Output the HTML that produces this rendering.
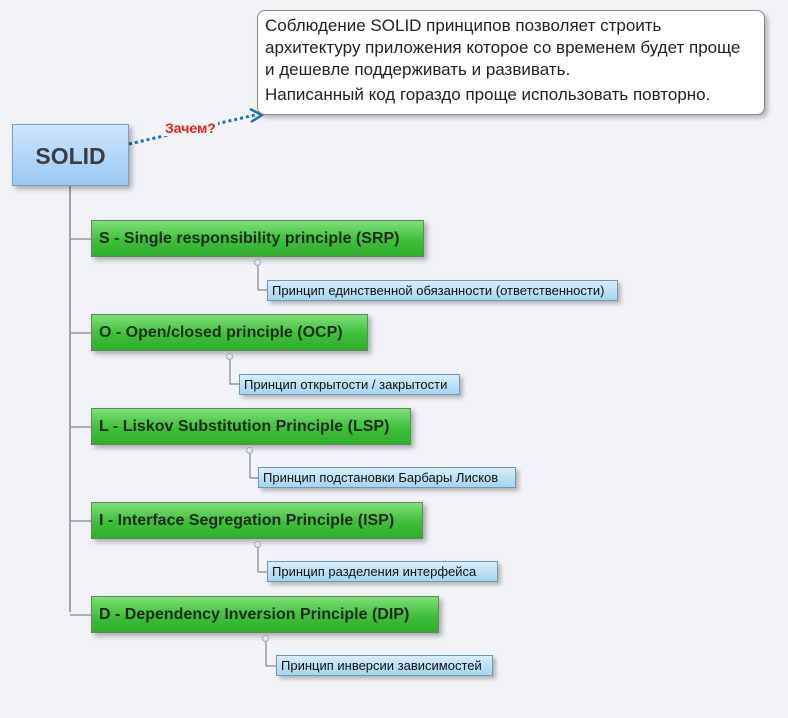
<!DOCTYPE html>
<html><head><meta charset="utf-8"><style>
html,body{margin:0;padding:0}
body{width:788px;height:718px;background:#f2f3f6;position:relative;overflow:hidden;font-family:"Liberation Sans","DejaVu Sans",sans-serif}
.a{position:absolute;box-sizing:border-box;white-space:nowrap}
.g{background:linear-gradient(#7fe07a,#3fbf3a 55%,#2fae2c);border:1px solid #5f8a5c;box-shadow:3px 3px 5px rgba(0,0,0,.3);font-weight:bold;font-size:16px;color:#1e2a1e;padding:0 0 0 7px;line-height:36px;height:37px}
.b{background:linear-gradient(#d8eefa,#a6d4ee);border:1px solid #6d9ab3;box-shadow:3px 3px 4px rgba(0,0,0,.25);font-size:13px;color:#111;padding:0 0 0 4px;line-height:19px;height:21px}
.c{width:7px;height:7px;border:1px solid #9ab;border-radius:50%;background:#dde8f2}
</style></head><body>
<svg class="a" style="left:0;top:0" width="788" height="718">
<path d="M70 186 V612" stroke="#888" stroke-width="1.5" fill="none"/>
<path d="M70 239 H91 M70 333 H91 M70 427 H91 M70 521 H91 M70 615 H91" stroke="#999" stroke-width="1.5"/>
<path d="M258 262 V290 H267 M230 356 V384 H239 M250 450 V478 H258 M258 544 V572 H267 M266 638 V666 H276" stroke="#888" stroke-width="1.2" fill="none"/>
<path d="M129 144 L255 115" stroke="#1c6fd0" stroke-width="3" stroke-dasharray="3 3" fill="none"/>
<path d="M250 109 L262 115 L251 122" stroke="#1c6fd0" stroke-width="2.5" fill="none"/>
</svg>
<div class="a" style="left:257px;top:10px;width:508px;height:105px;background:#fff;border:1px solid #888;border-radius:8px;box-shadow:3px 3px 5px rgba(0,0,0,.25)"></div>
<div class="a" style="left:265px;top:15px;font-size:17px;line-height:22px;color:#222">Соблюдение SOLID принципов позволяет строить<br>архитектуру приложения которое со временем будет проще<br>и дешевле поддерживать и развивать.<div style="height:3px"></div>Написанный код гораздо проще использовать повторно.</div>
<div class="a" style="left:163px;top:120px;color:#e8201a;font-weight:bold;font-size:14px;background:#f2f3f6;padding:0 2px">Зачем?</div>
<div class="a" style="left:12px;top:124px;width:117px;height:62px;background:linear-gradient(#cfe6fb,#99c8f4);border:1px solid #7f9fbf;box-shadow:3px 3px 5px rgba(0,0,0,.3);text-align:center;line-height:62px;font-weight:bold;font-size:23px;color:#3a3d44">SOLID</div>
<div class="a g" style="left:91px;top:220px;width:333px">S - Single responsibility principle (SRP)</div>
<div class="a g" style="left:91px;top:314px;width:277px">O - Open/closed principle (OCP)</div>
<div class="a g" style="left:91px;top:408px;width:320px">L - Liskov Substitution Principle (LSP)</div>
<div class="a g" style="left:91px;top:502px;width:332px">I - Interface Segregation Principle (ISP)</div>
<div class="a g" style="left:91px;top:596px;width:348px">D - Dependency Inversion Principle (DIP)</div>
<div class="a c" style="left:254px;top:259px"></div>
<div class="a c" style="left:226px;top:353px"></div>
<div class="a c" style="left:246px;top:447px"></div>
<div class="a c" style="left:254px;top:541px"></div>
<div class="a c" style="left:262px;top:635px"></div>
<div class="a b" style="left:267px;top:280px;width:351px">Принцип единственной обязанности (ответственности)</div>
<div class="a b" style="left:239px;top:374px;width:221px">Принцип открытости / закрытости</div>
<div class="a b" style="left:258px;top:467px;width:258px">Принцип подстановки Барбары Лисков</div>
<div class="a b" style="left:267px;top:561px;width:231px">Принцип разделения интерфейса</div>
<div class="a b" style="left:276px;top:655px;width:217px">Принцип инверсии зависимостей</div>
</body></html>
